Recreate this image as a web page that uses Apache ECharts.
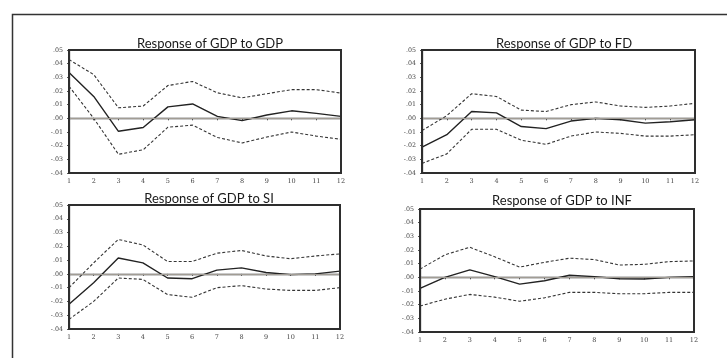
<!DOCTYPE html>
<html><head><meta charset="utf-8">
<script src="https://cdn.jsdelivr.net/npm/echarts@6/dist/echarts.min.js"></script>
<style>html,body{margin:0;padding:0;background:#fff}#c{width:727px;height:358px}</style>
</head><body><div id="c"></div>
<script>
const periods = ['1','2','3','4','5','6','7','8','9','10','11','12'];
const titles = ['Response of GDP to GDP','Response of GDP to FD','Response of GDP to SI','Response of GDP to INF'];

const gdpGdp      = [0.0335, 0.016, -0.0095, -0.0067, 0.0084, 0.0105, 0.0014, -0.0017, 0.0024, 0.0055, 0.0036, 0.0014];
const gdpGdpUp    = [0.043, 0.032, 0.0077, 0.009, 0.024, 0.027, 0.0187, 0.015, 0.018, 0.021, 0.021, 0.0185];
const gdpGdpLo    = [0.0235, 0.0, -0.0263, -0.023, -0.0065, -0.005, -0.014, -0.018, -0.0137, -0.010, -0.013, -0.0153];

const gdpFd       = [-0.021, -0.012, 0.005, 0.004, -0.006, -0.0075, -0.002, 0.0, -0.001, -0.0035, -0.0025, -0.001];
const gdpFdUp     = [-0.009, 0.002, 0.018, 0.016, 0.006, 0.005, 0.010, 0.012, 0.009, 0.008, 0.009, 0.011];
const gdpFdLo     = [-0.033, -0.026, -0.008, -0.008, -0.016, -0.019, -0.013, -0.010, -0.011, -0.013, -0.013, -0.012];

const gdpSi       = [-0.022, -0.0065, 0.0115, 0.008, -0.003, -0.0035, 0.0027, 0.0044, 0.001, -0.0005, 0.0, 0.002];
const gdpSiUp     = [-0.010, 0.008, 0.025, 0.021, 0.009, 0.009, 0.015, 0.017, 0.013, 0.011, 0.013, 0.0145];
const gdpSiLo     = [-0.033, -0.020, -0.003, -0.004, -0.015, -0.017, -0.010, -0.0085, -0.011, -0.012, -0.012, -0.010];

const gdpInf      = [-0.008, 0.0, 0.0055, 0.0005, -0.005, -0.0025, 0.0015, 0.0005, -0.001, -0.0012, 0.0, 0.0005];
const gdpInfUp    = [0.006, 0.0165, 0.022, 0.015, 0.0075, 0.011, 0.014, 0.013, 0.009, 0.0095, 0.0115, 0.012];
const gdpInfLo    = [-0.021, -0.016, -0.0125, -0.0145, -0.0175, -0.015, -0.011, -0.011, -0.012, -0.012, -0.011, -0.011];

const yTicks = {min: -0.04, max: 0.05, step: 0.01};

const panels = [
  {mid: gdpGdp, up: gdpGdpUp, lo: gdpGdpLo},
  {mid: gdpFd, up: gdpFdUp, lo: gdpFdLo},
  {mid: gdpSi, up: gdpSiUp, lo: gdpSiLo},
  {mid: gdpInf, up: gdpInfUp, lo: gdpInfLo}
];

const gridPos = [
  {left: 69, top: 50, width: 272, height: 123},
  {left: 422, top: 50, width: 273, height: 123},
  {left: 69, top: 205, width: 271, height: 124},
  {left: 420, top: 209, width: 274, height: 123}
];
const titlePos = [[205, 32], [559, 32], [204, 187], [557, 189]];

function fmt(v){
  const n = Math.round(v*100);
  const s = (Math.abs(n)/100).toFixed(2).replace(/^0/, '');
  return (n < 0 ? '-' : '') + s;
}

const lineCol = '#222';
const dashCol = '#353535';
const borderCol = '#2e2e2e';
const grid = [], xAxis = [], yAxis = [], series = [], title = [];
const graphic = [{type: 'rect', left: 10, top: 12, shape: {width: 740, height: 380}, z: 0,
  style: {fill: 'none', stroke: '#333', lineWidth: 1.5}}];
panels.forEach((p, i) => {
  const g = gridPos[i];
  grid.push(Object.assign({show: false}, g));
  graphic.push({type: 'rect', x: g.left, y: g.top, shape: {x: 0, y: 0, width: g.width, height: g.height},
    z: 100, silent: true, style: {fill: null, stroke: borderCol, lineWidth: 2}});
  title.push({text: titles[i], left: titlePos[i][0], top: titlePos[i][1], textAlign: 'center',
    textStyle: {fontFamily: 'Lato', fontWeight: 'normal', fontSize: 13, color: '#1a1a1a'}});
  xAxis.push({type: 'category', gridIndex: i, data: periods, boundaryGap: false,
    axisLine: {lineStyle: {color: borderCol, width: 1.3}}, axisTick: {length: 2, lineStyle: {color: '#555'}},
    axisLabel: {fontSize: 6.5, color: '#444', margin: 5, fontFamily: 'DejaVu Serif', interval: 0}, splitLine: {show: false}});
  yAxis.push({type: 'value', gridIndex: i, min: yTicks.min, max: yTicks.max, interval: yTicks.step,
    axisLine: {show: true, lineStyle: {color: borderCol, width: 1.3}}, axisTick: {show: true, length: 2, lineStyle: {color: '#555'}},
    axisLabel: {fontSize: 6.3, color: '#444', margin: 6, fontFamily: 'DejaVu Serif', formatter: fmt}, splitLine: {show: false}});
  series.push({type: 'line', xAxisIndex: i, yAxisIndex: i, data: p.mid, symbol: 'none', silent: true, z: 3,
    lineStyle: {color: lineCol, width: 1.4},
    markLine: {silent: true, symbol: 'none', label: {show: false}, lineStyle: {color: '#a19c94', width: 1, type: 'solid'}, data: [{yAxis: 0}]}});
  series.push({type: 'line', xAxisIndex: i, yAxisIndex: i, data: p.up, symbol: 'none', silent: true,
    lineStyle: {color: dashCol, width: 1.1, type: [3, 2]}});
  series.push({type: 'line', xAxisIndex: i, yAxisIndex: i, data: p.lo, symbol: 'none', silent: true,
    lineStyle: {color: dashCol, width: 1.1, type: [3, 2]}});
});

const chart = echarts.init(document.getElementById('c'), null, {renderer: 'canvas'});
chart.setOption({
  backgroundColor: '#fff',
  animation: false,
  title, grid, xAxis, yAxis, series, graphic
});
</script></body></html>
